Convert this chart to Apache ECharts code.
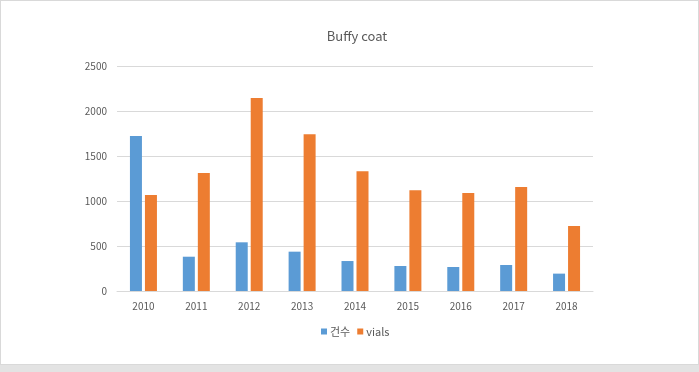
<!DOCTYPE html>
<html><head><meta charset="utf-8">
<script src="https://cdn.jsdelivr.net/npm/echarts@6/dist/echarts.min.js"></script>
<style>
html,body{margin:0;padding:0;width:699px;height:372px;background:#e3e3e3;overflow:hidden}
#wrap{position:absolute;left:0;top:0;width:697px;height:363px;border:1px solid #d9d9d9;background:#fff}
#c{width:697px;height:363px}
</style></head><body>
<div id="wrap"><div id="c"></div></div>
<script>
const categories = ['2010','2011','2012','2013','2014','2015','2016','2017','2018'];
const seriesNames = ['건수','vials'];
const counts = [1722, 381, 541, 437, 333, 278, 267, 289, 193];
const vials = [1067, 1311, 2144, 1741, 1330, 1119, 1089, 1156, 722];
const yTicks = [0, 500, 1000, 1500, 2000, 2500];

const font = '"Noto Sans CJK KR", "Noto Sans", sans-serif';
const chart = echarts.init(document.getElementById('c'));
chart.setOption({
  animation: false,
  title: {text: 'Buffy coat', left: 351, top: 24, textAlign: 'center',
    textStyle: {fontFamily: font, fontSize: 13, fontWeight: 'normal', color: '#595959'}},
  legend: {data: seriesNames, left: 315, top: 320, itemWidth: 6, itemHeight: 6, itemGap: 7,
    icon: 'rect', textStyle: {fontFamily: font, fontSize: 11, color: '#595959', padding: [0, 0, 0, -2]}},
  grid: {left: 116, right: 105, top: 65, bottom: 73},
  xAxis: {type: 'category', data: categories,
    axisLine: {lineStyle: {color: '#d9d9d9'}}, axisTick: {show: false},
    axisLabel: {color: '#595959', fontFamily: font, fontSize: 10, margin: 10}},
  yAxis: {type: 'value', min: yTicks[0], max: yTicks[yTicks.length-1], interval: 500,
    axisLine: {show: false}, axisTick: {show: false},
    splitLine: {lineStyle: {color: '#d9d9d9'}},
    axisLabel: {color: '#595959', fontFamily: font, fontSize: 10, margin: 10,
      formatter: v => String(v)}},
  series: [
    {name: seriesNames[0], type: 'bar', data: counts, barWidth: 12, barGap: '25%',
      itemStyle: {color: '#5B9BD5'}},
    {name: seriesNames[1], type: 'bar', data: vials, barWidth: 12, barGap: '25%',
      itemStyle: {color: '#ED7D31'}}
  ]
});
</script></body></html>
